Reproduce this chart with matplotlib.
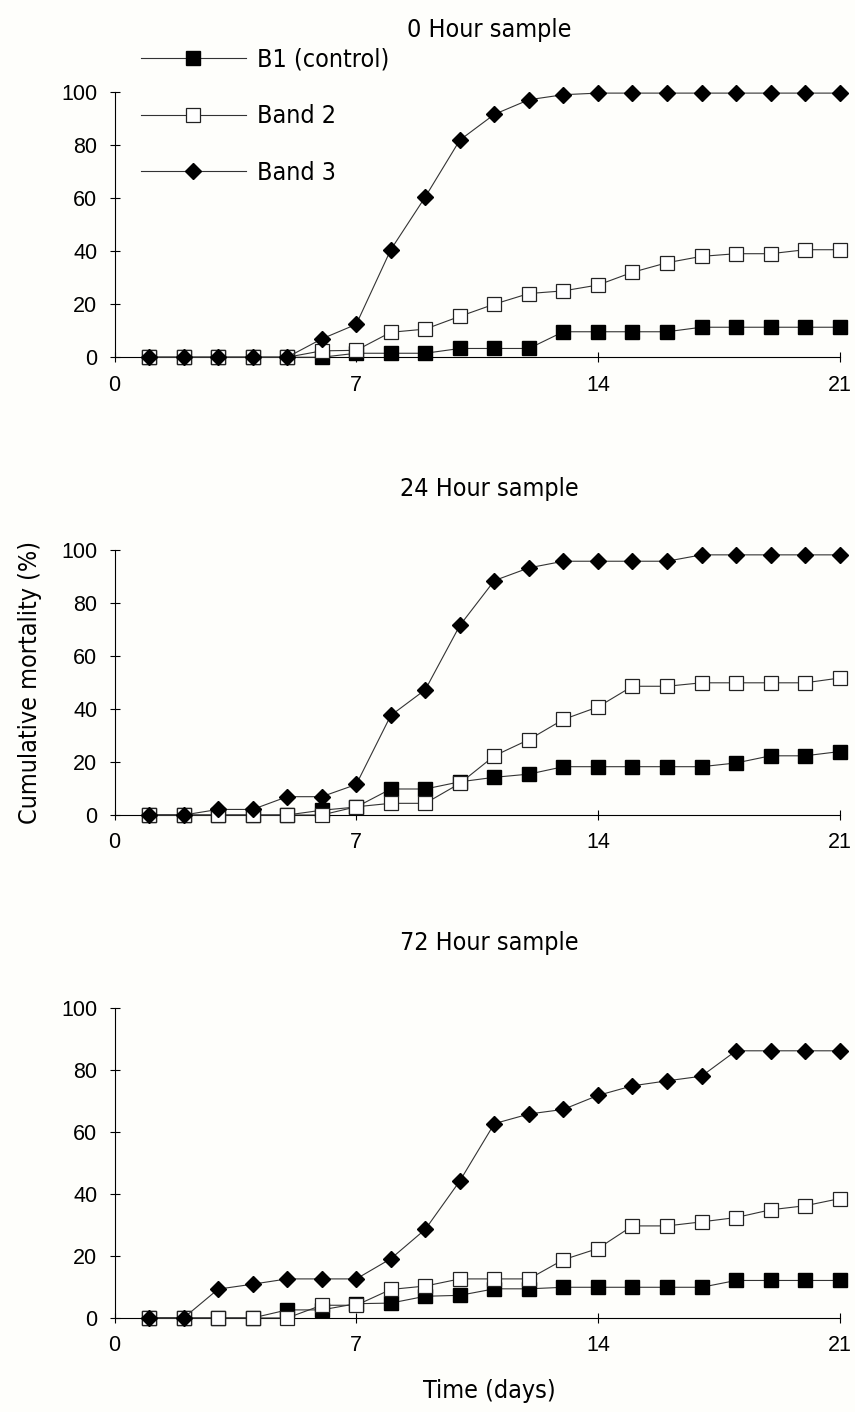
import matplotlib.pyplot as plt

days = list(range(1, 22))
series_labels = ['B1 (control)', 'Band 2', 'Band 3']
panel_titles = ['0 Hour sample', '24 Hour sample', '72 Hour sample']

# 0 hour sample
h0_b1 = [0, 0, 0, 0, 0, 0, 1.5, 1.5, 1.5, 3.3, 3.3, 3.3, 9.6, 9.6, 9.6, 9.6, 11.3, 11.3, 11.3, 11.3, 11.3]
h0_b2 = [0, 0, 0, 0, 0, 2.4, 2.6, 9.4, 10.6, 15.4, 20, 24, 25, 27.2, 32, 35.6, 38, 39, 39, 40.5, 40.5]
h0_b3 = [0, 0, 0, 0, 0, 6.9, 12.4, 40.5, 60.4, 81.8, 91.5, 97, 98.9, 99.5, 99.5, 99.5, 99.5, 99.5, 99.5, 99.5, 99.5]

# 24 hour sample
h24_b1 = [0, 0, 0, 0, 0, 1.8, 3, 9.8, 9.8, 12.5, 14.2, 15.4, 18.2, 18.2, 18.2, 18.2, 18.2, 19.6, 22.3, 22.3, 23.9]
h24_b2 = [0, 0, 0, 0, 0, 0, 3.1, 4.4, 4.4, 11.9, 22.3, 28.4, 36, 40.7, 48.5, 48.5, 49.8, 49.8, 49.8, 49.8, 51.6]
h24_b3 = [0, 0, 2.1, 2.1, 6.9, 6.9, 11.5, 37.5, 47.2, 71.4, 88.3, 93.1, 95.6, 95.6, 95.6, 95.6, 98, 98, 98, 98, 98]

# 72 hour sample
h72_b1 = [0, 0, 0, 0, 2.6, 2.6, 4.6, 4.8, 7.0, 7.3, 9.4, 9.4, 9.9, 9.9, 9.9, 9.9, 9.9, 12.1, 12.1, 12.1, 12.1]
h72_b2 = [0, 0, 0, 0, 0, 4.1, 4.1, 9.2, 10.3, 12.6, 12.6, 12.6, 18.8, 22.4, 29.7, 29.7, 31, 32.4, 34.9, 36.2, 38.5]
h72_b3 = [0, 0, 9.3, 10.9, 12.6, 12.6, 12.6, 19.1, 28.6, 44.2, 62.7, 65.8, 67.3, 71.8, 74.9, 76.5, 78, 86.2, 86.2, 86.2, 86.2]

panels = [(h0_b1, h0_b2, h0_b3), (h24_b1, h24_b2, h24_b3), (h72_b1, h72_b2, h72_b3)]

label_font = dict(family=['DejaVu Sans'], stretch='condensed', weight='light')
tick_font = 'Liberation Sans'
bg = '#fefefb'

fig = plt.figure(figsize=(8.55, 14.12), dpi=100, facecolor=bg)

# axes rectangles (left, bottom, width, height) in figure fractions
rects = [(0.134, 0.747, 0.848, 0.188),
         (0.134, 0.4228, 0.848, 0.188),
         (0.134, 0.0666, 0.848, 0.2195)]
title_y = [0.979, 0.654, 0.332]

styles = [dict(marker='s', markersize=10.5, markerfacecolor='black', markeredgecolor='black'),
          dict(marker='s', markersize=10.5, markerfacecolor='white', markeredgecolor='#222222', markeredgewidth=0.9),
          dict(marker='D', markersize=8, markerfacecolor='black', markeredgecolor='black')]

axes = []
for i, (rect, data) in enumerate(zip(rects, panels)):
    ax = fig.add_axes(rect, facecolor=bg)
    for j, (vals, st) in enumerate(zip(data, styles)):
        ax.plot(days, vals, color='#333333', linewidth=0.8, clip_on=False,
                zorder=3 + j, label=series_labels[j], **st)
    ax.set_xlim(0, 21)
    ax.set_ylim(0, 100)
    ax.set_xticks([0, 7, 14, 21])
    ax.set_yticks([0, 20, 40, 60, 80, 100])
    for s in ['top', 'right']:
        ax.spines[s].set_visible(False)
    for s in ['left', 'bottom']:
        ax.spines[s].set_linewidth(0.8)
    ax.tick_params(direction='inout', length=7, width=0.8, labelsize=15.5, pad=9)
    for lab in ax.get_xticklabels() + ax.get_yticklabels():
        lab.set_fontfamily(tick_font)
    fig.text(0.572, title_y[i], panel_titles[i], ha='center', va='center',
             fontsize=18, **label_font)
    axes.append(ax)

leg = axes[0].legend(loc='upper left', bbox_to_anchor=(0.005, 1.25), frameon=False,
                     handlelength=4.2, labelspacing=1.3, handletextpad=0.45,
                     prop=dict(size=18, **label_font))

fig.text(0.035, 0.517, 'Cumulative mortality (%)', rotation=90, ha='center', va='center',
         fontsize=18, **label_font)
fig.text(0.572, 0.015, 'Time (days)', ha='center', va='center',
         fontsize=18, **label_font)

fig.savefig('out.png', dpi=100, facecolor=bg)
